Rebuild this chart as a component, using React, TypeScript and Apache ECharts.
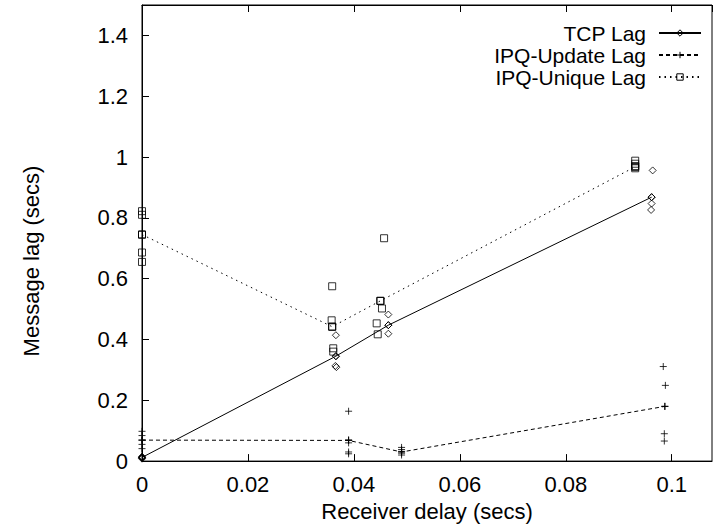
import React, { useEffect, useRef } from "react";
import * as echarts from "echarts";

const seriesNames = ["TCP Lag", "IPQ-Update Lag", "IPQ-Unique Lag"];
const xTitle = "Receiver delay (secs)";
const yTitle = "Message lag (secs)";

// TCP Lag measurements [delay, lag]
const tcpPoints: number[][] = [
  [0, 0.015], [0, 0.012], [0, 0.01], [0, 0.008],
  [0.0366, 0.414], [0.0366, 0.345], [0.0365, 0.313], [0.0367, 0.309],
  [0.0465, 0.482], [0.0465, 0.447], [0.0465, 0.419],
  [0.0964, 0.956], [0.0962, 0.868], [0.0962, 0.847], [0.0961, 0.826],
];
const tcpLine: number[][] = [[0, 0.012], [0.0366, 0.345], [0.0465, 0.447], [0.0962, 0.868]];

// IPQ-Update Lag measurements
const updPoints: number[][] = [
  [0, 0.098], [0, 0.084], [0, 0.069], [0, 0.055], [0, 0.041],
  [0.039, 0.164], [0.039, 0.07], [0.039, 0.06], [0.039, 0.03], [0.039, 0.024],
  [0.049, 0.045], [0.049, 0.038], [0.049, 0.032], [0.049, 0.026], [0.049, 0.02],
  [0.0984, 0.311], [0.0988, 0.249], [0.0987, 0.18], [0.0986, 0.09], [0.0986, 0.066],
];
const updLine: number[][] = [[0, 0.069], [0.039, 0.068], [0.049, 0.03], [0.0987, 0.18]];

// IPQ-Unique Lag measurements
const uniPoints: number[][] = [
  [0, 0.822], [0, 0.81], [0, 0.745], [0, 0.686], [0, 0.655],
  [0.0359, 0.575], [0.0358, 0.463], [0.0359, 0.442], [0.0361, 0.371], [0.0361, 0.36],
  [0.0457, 0.733], [0.045, 0.527], [0.0453, 0.502], [0.0443, 0.453], [0.0445, 0.417],
  [0.0931, 0.988], [0.0931, 0.978], [0.0931, 0.97], [0.0931, 0.963],
];
const uniLine: number[][] = [[0, 0.745], [0.0359, 0.442], [0.045, 0.527], [0.0931, 0.968]];

const xMin = 0;
const xMax = 0.1076;
const xStep = 0.02;
const yMin = 0;
const yMax = 1.5;
const yStep = 0.2;

const FONT = "Liberation Sans, Arial, Helvetica, sans-serif";
const PLUS = "path://M0,5L10,5M5,0L5,10";

function fmt(step: number) {
  return (v: number) => {
    const r = Math.round(v / step);
    if (Math.abs(v - r * step) > 1e-9) return "";
    return String(+(r * step).toFixed(2));
  };
}

export default function App() {
  const ref = useRef<HTMLDivElement>(null);
  useEffect(() => {
    document.body.style.margin = "0";
    if (!ref.current) return;
    const chart = echarts.init(ref.current, undefined, { renderer: "svg" });
    const hollow = { color: "rgba(255,255,255,0)", borderColor: "#000", borderWidth: 1 };
    const mk = (
      name: string,
      line: number[][],
      pts: number[][],
      symbol: string,
      size: number,
      dash: any
    ) => [
      {
        name,
        type: "line",
        data: line,
        symbol,
        symbolSize: size,
        showSymbol: true,
        lineStyle: { color: "#000", width: 1, type: dash },
        itemStyle: hollow,
        z: 3,
      },
      {
        name,
        type: "scatter",
        data: pts,
        symbol,
        symbolSize: size,
        itemStyle: hollow,
        z: 4,
      },
    ];
    chart.setOption({
      animation: false,
      textStyle: { fontFamily: FONT },
      grid: {
        left: 142,
        right: 3,
        top: 5,
        bottom: 64,
        show: true,
        borderColor: "#000",
        borderWidth: 1,
        containLabel: false,
      },
      legend: {
        data: seriesNames,
        orient: "vertical",
        align: "right",
        right: 13,
        top: 22,
        padding: 0,
        itemGap: 0,
        itemWidth: 42,
        itemHeight: 8,
        itemStyle: { color: "rgba(255,255,255,0)", borderColor: "#000", borderWidth: 1 },
        textStyle: {
          fontSize: 21,
          fontFamily: FONT,
          color: "#000",
          lineHeight: 22,
          padding: [0, 8, 0, 0],
        },
      },
      graphic: [
        {
          type: "text",
          x: 31,
          y: 261,
          rotation: Math.PI / 2,
          style: {
            text: yTitle,
            font: `22px ${FONT}`,
            fill: "#000",
            textAlign: "center",
            textVerticalAlign: "middle",
          },
        },
      ],
      xAxis: [
        {
          type: "value",
          min: xMin,
          max: xMax,
          interval: xStep,
          name: xTitle,
          nameLocation: "middle",
          nameGap: 37,
          nameTextStyle: { fontSize: 22, color: "#000", fontFamily: FONT },
          axisLine: { show: true, lineStyle: { color: "#000", width: 1 } },
          axisTick: { show: true, inside: true, length: 7, lineStyle: { color: "#000" } },
          axisLabel: {
            fontSize: 22,
            color: "#000",
            margin: 12,
            fontFamily: FONT,
            showMaxLabel: false,
            formatter: fmt(xStep),
          },
          splitLine: { show: false },
        },
        {
          type: "value",
          position: "top",
          min: xMin,
          max: xMax,
          interval: xStep,
          axisLine: { show: true, lineStyle: { color: "#000", width: 1 } },
          axisTick: { show: true, inside: true, length: 7, lineStyle: { color: "#000" } },
          axisLabel: { show: false },
          splitLine: { show: false },
        },
      ],
      yAxis: {
        type: "value",
        min: yMin,
        max: yMax,
        interval: yStep,
        axisLine: { show: true, lineStyle: { color: "#000", width: 1 } },
        axisTick: { show: true, inside: true, length: 7, lineStyle: { color: "#000" } },
        axisLabel: {
          fontSize: 22,
          color: "#000",
          margin: 14,
          fontFamily: FONT,
          showMaxLabel: false,
          formatter: fmt(yStep),
        },
        splitLine: { show: false },
      },
      series: [
        ...mk(seriesNames[0], tcpLine, tcpPoints, "diamond", 7, "solid"),
        ...mk(seriesNames[1], updLine, updPoints, PLUS, 7, [4, 3]),
        ...mk(seriesNames[2], uniLine, uniPoints, "rect", 7, [1.5, 4]),
      ],
    });
    return () => chart.dispose();
  }, []);
  return <div ref={ref} style={{ width: 715, height: 527 }} />;
}
